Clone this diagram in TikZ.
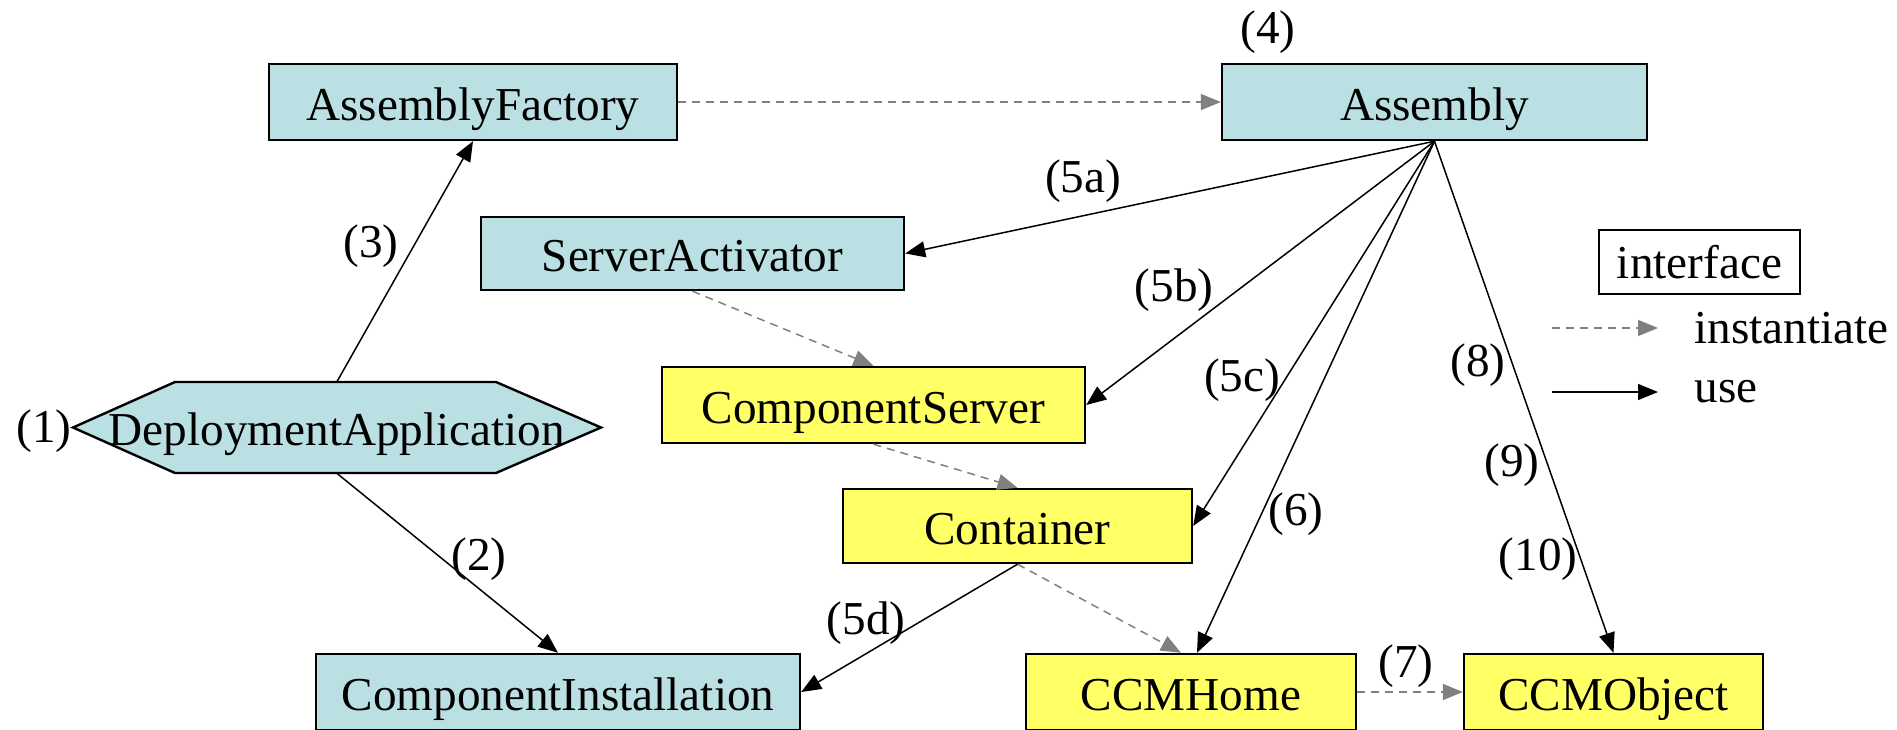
\documentclass[tikz,border=0pt]{standalone}
\usepackage{fontspec}
\setmainfont{Liberation Serif}
\usetikzlibrary{arrows.meta}

\definecolor{ifacecyan}{RGB}{187,224,227}
\definecolor{implyellow}{RGB}{255,255,102}

\begin{document}
\begin{tikzpicture}
	[x=0.5pt,y=-0.5pt,
	every node/.style={font=\fontsize{23.6}{28}\selectfont},
	iface/.style={rectangle,draw=black,fill=ifacecyan,line width=1.2pt,
		inner sep=0pt,text height=22pt,text depth=4pt},
	impl/.style={iface,fill=implyellow},
	plain/.style={inner sep=0pt},
	usearrow/.style={-{Triangle[length=10pt,width=8pt]},black,line width=0.75pt},
	instarrow/.style={-{Triangle[length=10pt,width=8pt]},gray,line width=0.75pt,
		dash pattern=on 4pt off 3pt}]
	\useasboundingbox (0,0) rectangle (1897,729);

	% interfaces
	\node[iface,minimum width=204pt,minimum height=38pt] (factory) at (473,102) {AssemblyFactory};
	\node[iface,minimum width=212.5pt,minimum height=38pt] (assembly) at (1434.5,102) {Assembly};
	\node[iface,minimum width=211.5pt,minimum height=36.5pt] (activator) at (692.5,253.5) {ServerActivator};
	\node[iface,minimum width=242pt,minimum height=38pt] (install) at (558,692) {ComponentInstallation};

	% hexagon
	\draw[fill=ifacecyan,line width=1.2pt,line join=miter]
		(73,427.5) -- (175,382) -- (496,382) -- (601,427.5) -- (496,473) -- (175,473) -- cycle;
	\node[plain,minimum width=264pt,minimum height=45.5pt,text height=22pt,text depth=4pt]
		(deploy) at (337,427.5) {DeploymentApplication};

	% implementations
	\node[impl,minimum width=211.5pt,minimum height=38pt] (compserver) at (873.5,405) {ComponentServer};
	\node[impl,minimum width=174.5pt,minimum height=37pt] (container) at (1017.5,526) {Container};
	\node[impl,minimum width=165pt,minimum height=38pt] (home) at (1191,692) {CCMHome};
	\node[impl,minimum width=149.5pt,minimum height=38pt] (object) at (1613.5,692) {CCMObject};

	% steps
	\node[plain] (s1) at (44,431) {(1)};
	\node[plain] (s2) at (479,559) {(2)};
	\node[plain] (s3) at (371,246) {(3)};
	\node[plain] (s4) at (1268,32) {(4)};
	\node[plain] (s5a) at (1083,181) {(5a)};
	\node[plain] (s5b) at (1174,290) {(5b)};
	\node[plain] (s5c) at (1242,380) {(5c)};
	\node[plain] (s5d) at (866,623) {(5d)};
	\node[plain] (s6) at (1296,514) {(6)};
	\node[plain] (s7) at (1406,666) {(7)};
	\node[plain] (s8) at (1478,365) {(8)};
	\node[plain] (s9) at (1512,465) {(9)};
	\node[plain] (s10) at (1538,559) {(10)};

	\draw[instarrow] (factory) -- (assembly);
	\draw[usearrow] (deploy.north) -- (factory.south);
	\draw[usearrow] (deploy.south) -- (install.north);
	\draw[usearrow] (assembly.south) -- (activator.east);
	\draw[usearrow] (assembly.south) -- (compserver.east);
	\draw[usearrow] (assembly.south) -- (container.east);
	\draw[usearrow] (assembly.south) -- ([xshift=3pt]home.north);
	\draw[usearrow] (assembly.south) -- (object.north);
	\draw[instarrow] (activator.south) -- (compserver.north);
	\draw[instarrow] (compserver.south) -- (container.north);
	\draw[instarrow] (container.south) -- ([xshift=-5pt]home.north);
	\draw[usearrow] (container.south) -- (install.east);
	\draw[instarrow] (home) -- (object);

	% legend
	\node[rectangle,draw=black,line width=1.2pt,minimum width=100.5pt,minimum height=32pt,
		inner sep=0pt] (legend) at (1699.5,262) {interface};
	\coordinate (inststart) at (1552,328);
	\coordinate (instend) at (1658,328);
	\coordinate (usestart) at (1552,392);
	\coordinate (useend) at (1658,392);
	\node[plain,anchor=west] (insttext) at (1694,328) {instantiate};
	\node[plain,anchor=west] (usetext) at (1694,392) {use};
	\draw[instarrow] (inststart) -- (instend);
	\draw[usearrow] (usestart) -- (useend);
\end{tikzpicture}
\end{document}
